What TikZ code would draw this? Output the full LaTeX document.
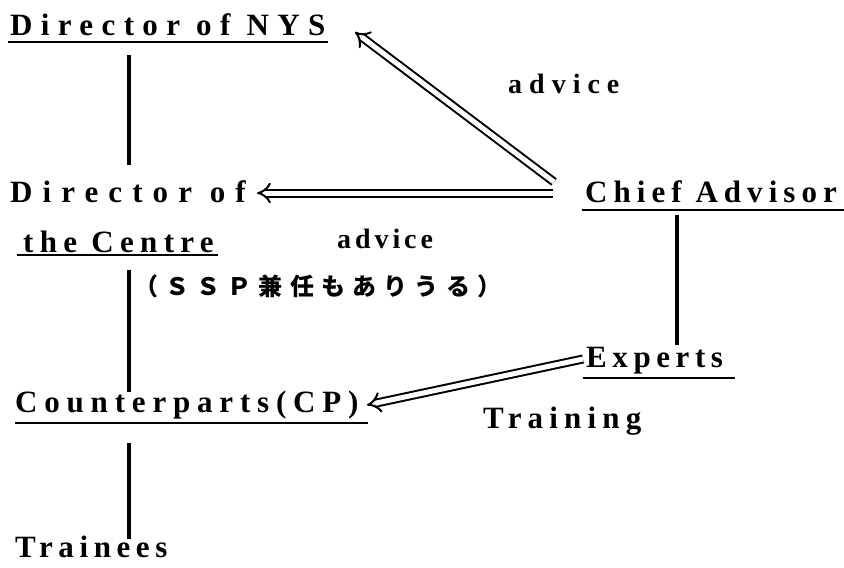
\documentclass[tikz,border=0pt]{standalone}
\usepackage{fontspec}
\setmainfont{Liberation Serif}
\newfontfamily\cjkf[LetterSpace=30]{Noto Sans CJK JP}
\usetikzlibrary{arrows.meta}
\tikzset{
  lbl/.style={inner sep=0pt, anchor=base west, font=\bfseries\fontsize{31}{33}\selectfont\addfontfeature{LetterSpace=#1}},
  slbl/.style={inner sep=0pt, anchor=base west, font=\bfseries\fontsize{28}{30}\selectfont\addfontfeature{LetterSpace=#1}},
  tie/.style={line width=4pt},
  uline/.style={line width=2pt},
  dbl/.style={double, double distance=5pt, line width=2pt, -{Implies}},
}
\begin{document}
\begin{tikzpicture}[x=1pt,y=-1pt]
\useasboundingbox (0,0) rectangle (844,568);
% nodes
\node[lbl=27] (nys) at (10,35) {Director of NYS};
\node[lbl=32.5] (dir) at (10,202) {Director of};
\node[lbl=20.5] (cen) at (23,252) {the Centre};
\node[lbl=19.5] (chief) at (585,202) {Chief Advisor};
\node[lbl=22] (cp) at (15,412) {Counterparts(CP)};
\node[lbl=18] (exp) at (586,367) {Experts};
\node[lbl=18] (tr) at (15,557) {Trainees};
\node[slbl=25] (adv1) at (508,93) {advice};
\node[slbl=14] (adv2) at (337,248) {advice};
\node[lbl=20] (trn) at (483,428) {Training};
\node[inner sep=0pt, anchor=base west, font=\cjkf\bfseries\fontsize{24}{26}\selectfont] (ssp) at (134,295) {（ＳＳＰ兼任もありうる）};
% underlines
\draw[uline] (8,42) coordinate (unys1) -- (328,42) coordinate (unys2);
\draw[uline] (17,255) coordinate (ucen1) -- (218,255) coordinate (ucen2);
\draw[uline] (582,210) coordinate (uch1) -- (844,210) coordinate (uch2);
\draw[uline] (15,423) coordinate (ucp1) -- (368,423) coordinate (ucp2);
\draw[uline] (583,378) coordinate (uex1) -- (735,378) coordinate (uex2);
% vertical ties
\coordinate (vx) at (129,0);
\coordinate (vc) at (677,0);
\draw[tie] ([yshift=-13pt]vx |- unys1) -- ([yshift=15pt]vx |- dir.north);
\draw[tie] ([yshift=-15pt]vx |- ucen1) -- ([yshift=-2pt]vx |- cp.north);
\draw[tie] ([yshift=-20pt]vx |- ucp1) -- ([yshift=-4pt]vx |- tr.north);
\draw[tie] ([yshift=-5pt]vc |- uch1) -- ([yshift=2pt]vc |- exp.north);
% advice arrows
\coordinate (cha) at (554,182);
\coordinate (nysa) at (355,32);
\coordinate (chh) at (553,193);
\coordinate (dira) at (257,193);
\coordinate (expa) at (583,359);
\coordinate (cpa) at (367,405);
\draw[dbl] (cha) -- (nysa);
\draw[dbl] (chh) -- (dira);
\draw[dbl] (expa) -- (cpa);
\end{tikzpicture}
\end{document}
